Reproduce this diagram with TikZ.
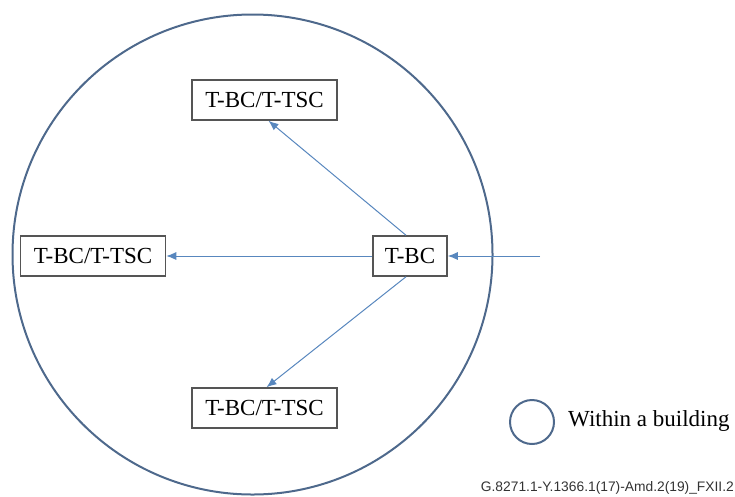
\documentclass[tikz,border=0pt]{standalone}
\usepackage{fontspec}
\setmainfont{Liberation Serif}
\newfontfamily\footfont{Liberation Sans}
\usetikzlibrary{arrows.meta}
\definecolor{arrowblue}{RGB}{88,135,190}
\definecolor{ringblue}{RGB}{78,105,140}
\definecolor{boxgray}{RGB}{85,85,85}
\tikzset{
  x=1pt, y=-1pt,
  box/.style={draw=boxgray, line width=1.5pt, fill=white, minimum height=40pt, inner sep=0pt, font=\fontsize{23}{27}\selectfont},
  wide/.style={box, minimum width=145pt},
  narrow/.style={box, minimum width=74pt},
  conn/.style={draw=arrowblue, line width=1pt, -{Latex[length=10pt,width=8pt]}},
  ring/.style={draw=ringblue, line width=2pt}
}
\begin{document}
\begin{tikzpicture}
\useasboundingbox (0,0) rectangle (735,496);
\node[ring, circle, minimum size=480pt, inner sep=0pt] (bldg) at (252.5,254.5) {};
\node[wide] (top) at (264.5,100) {T-BC/T-TSC};
\node[wide] (left) at (93,256) {T-BC/T-TSC};
\node[narrow] (tbc) at (410,256) {T-BC};
\node[wide] (bot) at (264.5,408) {T-BC/T-TSC};
\coordinate (src) at (540,256);
\draw[conn] (src) -- (tbc.east);
\draw[conn] (tbc.west) -- (left.east);
\draw[conn] ([xshift=-4pt]tbc.north) -- ([xshift=4pt]top.south);
\draw[conn] ([xshift=-4pt]tbc.south) -- ([xshift=2pt]bot.north);
\node[ring, circle, minimum size=44pt, inner sep=0pt] (legc) at (532,422) {};
\node[anchor=west, inner sep=0pt, font=\fontsize{23}{27}\selectfont] (legt) at (568,421) {Within a building};
\node[anchor=east, inner sep=0pt, font=\footfont\fontsize{13.8}{16}\selectfont, text=black!80] (foot) at (734,488) {G.8271.1-Y.1366.1(17)-Amd.2(19)\_FXII.2};
\end{tikzpicture}
\end{document}
